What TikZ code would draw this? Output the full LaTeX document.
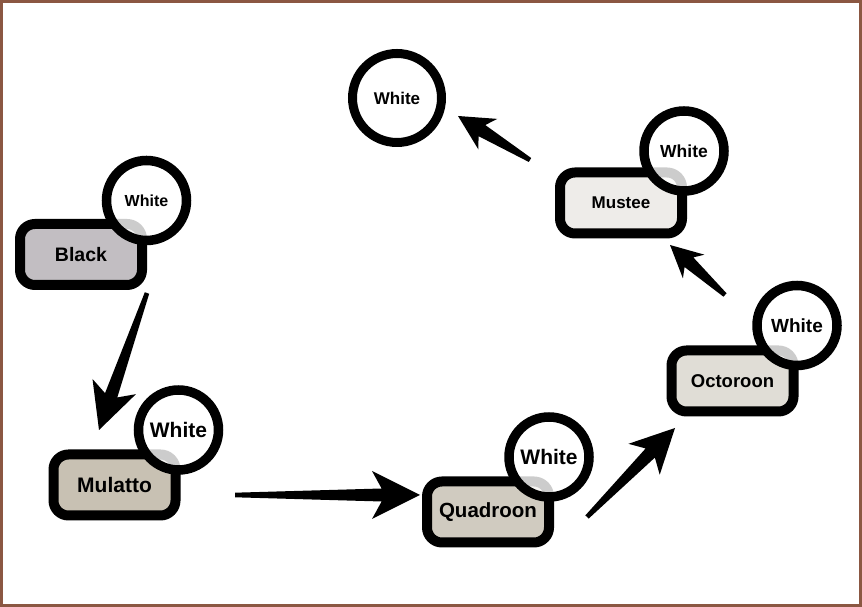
\documentclass[tikz,border=0pt]{standalone}
\usepackage{fontspec}
\setmainfont{Liberation Sans}
\usetikzlibrary{calc,positioning}

\definecolor{framebrown}{RGB}{139,87,66}
\definecolor{blackfill}{RGB}{194,190,194}
\definecolor{mulattofill}{RGB}{200,193,179}
\definecolor{quadfill}{RGB}{208,203,192}
\definecolor{octofill}{RGB}{224,221,214}
\definecolor{musteefill}{RGB}{238,236,233}

% tapered arrow: tail, tip, head length, head half width
\newcommand{\fatarrow}[4]{%
  \coordinate (hb) at ($(#2)!#3!(#1)$);
  \coordinate (hj) at ($(#2)!0.8*#3!(#1)$);
  \fill ($(#1)!2.3pt!90:(#2)$) -- ($(hj)!6.5pt!90:(#2)$) -- ($(hb)!#4!90:(#2)$) -- (#2)
     -- ($(hb)!#4!-90:(#2)$) -- ($(hj)!6.5pt!-90:(#2)$) -- ($(#1)!2.3pt!-90:(#2)$) -- cycle;
}

\begin{document}
\begin{tikzpicture}
  [x=1pt,y=1pt,
   box/.style={draw,line width=10pt,rounded corners=15pt,minimum width=122pt,minimum height=61pt,inner sep=0pt},
   wc/.style={circle,draw,line width=9.5pt,fill=white,fill opacity=.8,text opacity=1,minimum size=80pt,inner sep=0pt}]
  \useasboundingbox (0,0) rectangle (862,607);
  \draw[framebrown,line width=3pt] (1.5,1.5) rectangle (860.5,605.5);

  \node[box,fill=blackfill,font=\fontsize{19.5}{22}\selectfont\bfseries] (black) at (81,352.5) {Black};
  \node[box,fill=mulattofill,font=\fontsize{21}{24}\selectfont\bfseries] (mulatto) at (114.5,122) {Mulatto};
  \node[box,fill=quadfill,font=\fontsize{20.5}{24}\selectfont\bfseries] (quadroon) at (488,95) {Quadroon};
  \node[box,fill=octofill,font=\fontsize{18.5}{22}\selectfont\bfseries] (octoroon) at (732.5,226) {Octoroon};
  \node[box,fill=musteefill,font=\fontsize{17}{20}\selectfont\bfseries] (mustee) at (621,404) {Mustee};

  \node[wc,font=\fontsize{16}{19}\selectfont\bfseries] (wblack) at (146.5,406.5) {White};
  \node[wc,font=\fontsize{21}{24}\selectfont\bfseries] (wmulatto) at (178.5,177) {White};
  \node[wc,font=\fontsize{21}{24}\selectfont\bfseries] (wquadroon) at (549,150) {White};
  \node[wc,font=\fontsize{19}{22}\selectfont\bfseries] (woctoroon) at (797,281.5) {White};
  \node[wc,font=\fontsize{17.5}{20}\selectfont\bfseries] (wmustee) at (684,456) {White};
  \node[wc,minimum size=89pt,line width=9pt,font=\fontsize{17}{20}\selectfont\bfseries] (wtop) at (397,509) {White};

  \coordinate (t1) at (147,314);  \coordinate (h1) at (99,177);
  \coordinate (t2) at (235,112);  \coordinate (h2) at (420,112);
  \coordinate (t3) at (587,90);   \coordinate (h3) at (675,179);
  \coordinate (t4) at (725,312);  \coordinate (h4) at (670,362);
  \coordinate (t5) at (530,447);  \coordinate (h5) at (458,491);

  \fatarrow{t1}{h1}{46pt}{23pt}
  \fatarrow{t2}{h2}{48pt}{24pt}
  \fatarrow{t3}{h3}{44pt}{22pt}
  \fatarrow{t4}{h4}{32pt}{16pt}
  \fatarrow{t5}{h5}{35pt}{18pt}
\end{tikzpicture}
\end{document}
